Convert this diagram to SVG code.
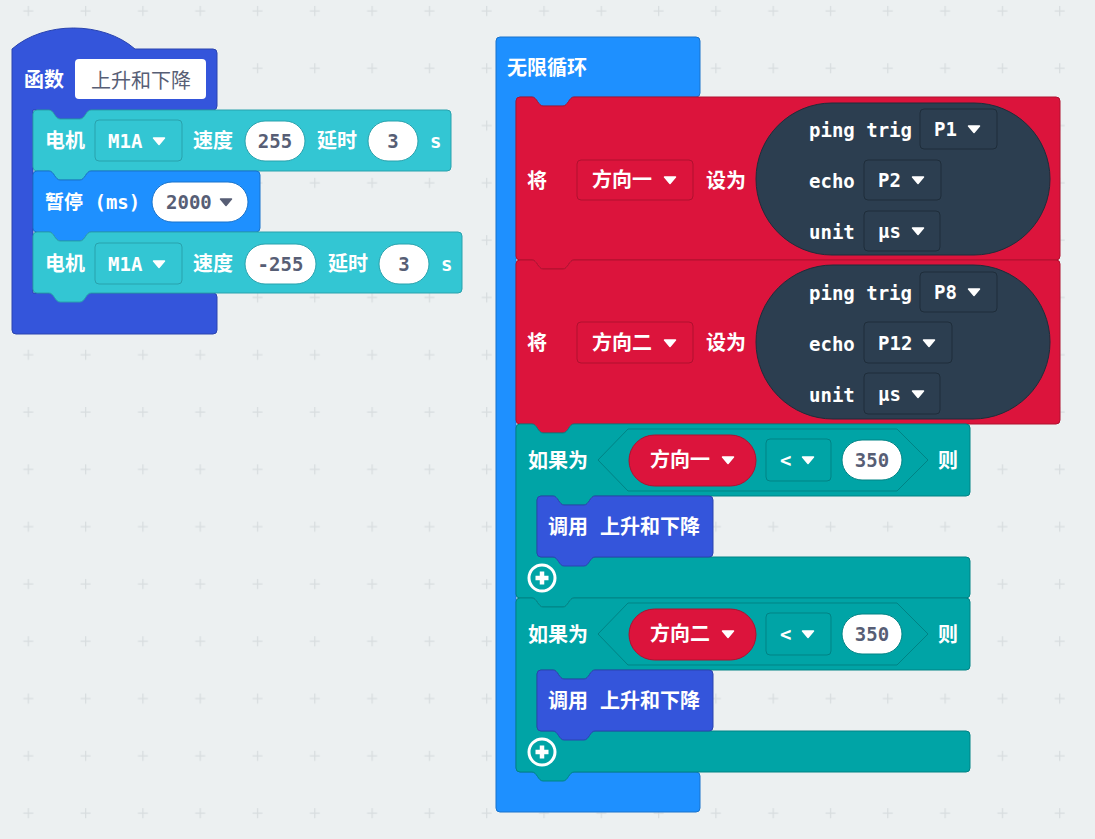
<svg xmlns="http://www.w3.org/2000/svg" xmlns:xlink="http://www.w3.org/1999/xlink" width="1095" height="839" viewBox="0 0 1095 839">
<style>
.t{font-family:'DejaVu Sans Mono','Noto Sans CJK SC',monospace;font-size:19px;font-weight:bold;fill:#fff;dominant-baseline:central}
.c{font-size:20px}
.g{fill:#575e75}
.m{text-anchor:middle}
.fld{font-family:'Noto Sans CJK SC',sans-serif;font-size:20px;fill:#575e75;dominant-baseline:central;text-anchor:middle}
.fn{fill:#3455db;stroke:#2a44af;stroke-width:1}
.mo{fill:#33c6d3;stroke:#29a2ad;stroke-width:1}
.lp{fill:#1e90ff;stroke:#1873cc;stroke-width:1}
.var{fill:#dc143c;stroke:#b0102f;stroke-width:1}
.son{fill:#2c3e50;stroke:#1f2d3a;stroke-width:1}
.lg{fill:#00a4a6;stroke:#008385;stroke-width:1}
.num{fill:#fff;stroke-width:1}
</style>
<defs>
<pattern id="grid" patternUnits="userSpaceOnUse" x="0" y="0" width="57.3" height="57.3">
<path d="M23.3,11H33.3M28.3,6V16" stroke="#d8dddf" stroke-width="1.3" fill="none"/>
</pattern>
<path id="tri" d="M-5.5,-3 L5.5,-3 L0,3.5 Z" stroke-linejoin="round" stroke-width="1.5"/>
<path id="stmt61" d="M0,4 Q0,0 4,0 H16 C21,0 22,9 27,9 H47 C52,9 53,0 58,0 H172 Q176,0 176,4 V57 Q176,61 172,61 H58 C53,61 52,70 47,70 H27 C22,70 21,61 16,61 H4 Q0,61 0,57 Z"/>
<path id="ifshape" d="M0,4 Q0,0 4,0 H16 C21,0 22,9 27,9 H47 C52,9 53,0 58,0 H450 Q454,0 454,4 V68 Q454,72 450,72 H79 C74,72 73,81 68,81 H48 C43,81 42,72 37,72 H25 Q21,72 21,76 V129 Q21,133 25,133 H450 Q454,133 454,137 V170 Q454,174 450,174 H58 C53,174 52,183 47,183 H27 C22,183 21,174 16,174 H4 Q0,174 0,170 Z"/>
</defs>
<rect width="1095" height="839" fill="#ecf0f1"/>
<rect width="1095" height="839" fill="url(#grid)"/>
<g id="connectors"></g>

<g id="function-block">
<path class="fn" d="M12,49 C44,21 103,21 135,49 H213 Q217,49 217,53 V106 Q217,110 213,110 H91 C86,110 85,119 80,119 H60 C55,119 54,110 49,110 H33 V293 H213 Q217,293 217,297 V330 Q217,334 213,334 H16 Q12,334 12,330 Z"/>
<text class="t c" x="24" y="80">函数</text>
<rect x="75" y="59" width="131" height="40" rx="4" fill="#fff"/>
<text class="fld" x="141" y="79">上升和下降</text>
</g>

<g id="motor1" transform="translate(33,110)">
<path class="mo" d="M0,4 Q0,0 4,0 H16 C21,0 22,9 27,9 H47 C52,9 53,0 58,0 H414 Q418,0 418,4 V57 Q418,61 414,61 H58 C53,61 52,70 47,70 H27 C22,70 21,61 16,61 H4 Q0,61 0,57 Z"/>
<text class="t c" x="12" y="31">电机</text>
<rect class="mo" x="62" y="10" width="87" height="41" rx="4"/>
<text class="t" x="75" y="31">M1A</text>
<use href="#tri" x="126" y="31" fill="#fff" stroke="#fff"/>
<text class="t c" x="160" y="31">速度</text>
<rect class="num" x="212" y="11" width="60" height="40" rx="20" stroke="#29a2ad"/>
<text class="t g m" x="242" y="31">255</text>
<text class="t c" x="284" y="31">延时</text>
<rect class="num" x="335" y="11" width="50" height="40" rx="20" stroke="#29a2ad"/>
<text class="t g m" x="360" y="31">3</text>
<text class="t" x="397" y="31">s</text>
</g>

<g id="pause" transform="translate(33,171)">
<path class="lp" d="M0,4 Q0,0 4,0 H16 C21,0 22,9 27,9 H47 C52,9 53,0 58,0 H223 Q227,0 227,4 V57 Q227,61 223,61 H58 C53,61 52,70 47,70 H27 C22,70 21,61 16,61 H4 Q0,61 0,57 Z"/>
<text class="t" x="12" y="31">暂停 (ms)</text>
<rect class="num" x="119" y="11" width="96" height="40" rx="20" stroke="#1873cc"/>
<text class="t g" x="133" y="31">2000</text>
<use href="#tri" x="193" y="31" fill="#575e75" stroke="#575e75"/>
</g>

<g id="motor2" transform="translate(33,232)">
<path class="mo" d="M0,4 Q0,0 4,0 H16 C21,0 22,9 27,9 H47 C52,9 53,0 58,0 H425 Q429,0 429,4 V57 Q429,61 425,61 H58 C53,61 52,70 47,70 H27 C22,70 21,61 16,61 H4 Q0,61 0,57 Z"/>
<text class="t c" x="12" y="32">电机</text>
<rect class="mo" x="62" y="11" width="87" height="41" rx="4"/>
<text class="t" x="75" y="32">M1A</text>
<use href="#tri" x="126" y="32" fill="#fff" stroke="#fff"/>
<text class="t c" x="160" y="32">速度</text>
<rect class="num" x="212" y="12" width="71" height="40" rx="20" stroke="#29a2ad"/>
<text class="t g m" x="247.5" y="32">-255</text>
<text class="t c" x="295" y="32">延时</text>
<rect class="num" x="346" y="12" width="50" height="40" rx="20" stroke="#29a2ad"/>
<text class="t g m" x="371" y="32">3</text>
<text class="t" x="408" y="32">s</text>
</g>

<g id="forever">
<path class="lp" d="M500,37 H696 Q700,37 700,41 V93 Q700,97 696,97 H574 C569,97 568,106 563,106 H543 C538,106 537,97 532,97 H520 Q516,97 516,101 V768 Q516,772 520,772 H696 Q700,772 700,776 V808 Q700,812 696,812 H500 Q496,812 496,808 V41 Q496,37 500,37 Z"/>
<text class="t c" x="507" y="68">无限循环</text>
</g>

<g id="set1" transform="translate(516,97)">
<path class="var" d="M0,4 Q0,0 4,0 H16 C21,0 22,9 27,9 H47 C52,9 53,0 58,0 H540 Q544,0 544,4 V159 Q544,163 540,163 H58 C53,163 52,172 47,172 H27 C22,172 21,163 16,163 H4 Q0,163 0,159 Z"/>
<text class="t c" x="11" y="84">将</text>
<rect class="var" x="61" y="63" width="116" height="40" rx="4"/>
<text class="t c" x="76" y="83">方向一</text>
<use href="#tri" x="154" y="83" fill="#fff" stroke="#fff"/>
<text class="t c" x="190" y="84">设为</text>
<rect class="son" x="240" y="6" width="294" height="152" rx="76"/>
<text class="t" x="293" y="33">ping trig</text>
<rect class="son" x="404" y="12" width="77" height="40" rx="4"/>
<text class="t" x="418" y="32">P1</text>
<use href="#tri" x="458" y="32" fill="#fff" stroke="#fff"/>
<text class="t" x="293" y="84">echo</text>
<rect class="son" x="348" y="63" width="77" height="40" rx="4"/>
<text class="t" x="362" y="83">P2</text>
<use href="#tri" x="402" y="83" fill="#fff" stroke="#fff"/>
<text class="t" x="293" y="135">unit</text>
<rect class="son" x="348" y="114" width="76" height="40" rx="4"/>
<text class="t" x="362" y="134">μs</text>
<use href="#tri" x="402" y="134" fill="#fff" stroke="#fff"/>
</g>

<g id="set2" transform="translate(516,260)">
<path class="var" d="M0,4 Q0,0 4,0 H16 C21,0 22,9 27,9 H47 C52,9 53,0 58,0 H540 Q544,0 544,4 V160 Q544,164 540,164 H58 C53,164 52,173 47,173 H27 C22,173 21,164 16,164 H4 Q0,164 0,160 Z"/>
<text class="t c" x="11" y="83">将</text>
<rect class="var" x="61" y="62" width="116" height="41" rx="4"/>
<text class="t c" x="76" y="83">方向二</text>
<use href="#tri" x="154" y="83" fill="#fff" stroke="#fff"/>
<text class="t c" x="190" y="83">设为</text>
<rect class="son" x="240" y="5" width="294" height="154" rx="77"/>
<text class="t" x="293" y="33">ping trig</text>
<rect class="son" x="404" y="12" width="77" height="40" rx="4"/>
<text class="t" x="418" y="32">P8</text>
<use href="#tri" x="458" y="32" fill="#fff" stroke="#fff"/>
<text class="t" x="293" y="84">echo</text>
<rect class="son" x="348" y="62" width="88" height="41" rx="4"/>
<text class="t" x="362" y="83">P12</text>
<use href="#tri" x="413" y="83" fill="#fff" stroke="#fff"/>
<text class="t" x="293" y="135">unit</text>
<rect class="son" x="348" y="113" width="76" height="41" rx="4"/>
<text class="t" x="362" y="134">μs</text>
<use href="#tri" x="402" y="134" fill="#fff" stroke="#fff"/>
</g>

<g id="if1" transform="translate(516,424)">
<use href="#ifshape" class="lg"/>
<text class="t c" x="12" y="37">如果为</text>
<path class="lg" d="M82,36 L112,5 H381 L412,36 L381,67 H112 Z"/>
<rect class="var" x="113" y="11" width="127" height="51" rx="25.5"/>
<text class="t c" x="134" y="36">方向一</text>
<use href="#tri" x="212" y="36" fill="#fff" stroke="#fff"/>
<rect class="lg" x="250" y="15" width="65" height="42" rx="4"/>
<text class="t" x="264" y="36">&lt;</text>
<use href="#tri" x="292" y="36" fill="#fff" stroke="#fff"/>
<rect class="num" x="326" y="16" width="60" height="40" rx="20" stroke="#008385"/>
<text class="t g m" x="356" y="36">350</text>
<text class="t c" x="422" y="37">则</text>
<circle cx="26" cy="154" r="13" fill="none" stroke="#fff" stroke-width="3"/>
<path d="M26,147.5 V160.5 M19.5,154 H32.5" stroke="#fff" stroke-width="4.5"/>
</g>

<g id="call1" transform="translate(537,496)">
<use href="#stmt61" class="fn"/>
<text class="t c" x="11" y="31">调用</text>
<text class="t c" x="63" y="31">上升和下降</text>
</g>

<g id="if2" transform="translate(516,598)">
<use href="#ifshape" class="lg"/>
<text class="t c" x="12" y="37">如果为</text>
<path class="lg" d="M82,36 L112,5 H381 L412,36 L381,67 H112 Z"/>
<rect class="var" x="113" y="11" width="127" height="51" rx="25.5"/>
<text class="t c" x="134" y="36">方向二</text>
<use href="#tri" x="212" y="36" fill="#fff" stroke="#fff"/>
<rect class="lg" x="250" y="15" width="65" height="42" rx="4"/>
<text class="t" x="264" y="36">&lt;</text>
<use href="#tri" x="292" y="36" fill="#fff" stroke="#fff"/>
<rect class="num" x="326" y="16" width="60" height="40" rx="20" stroke="#008385"/>
<text class="t g m" x="356" y="36">350</text>
<text class="t c" x="422" y="37">则</text>
<circle cx="26" cy="154" r="13" fill="none" stroke="#fff" stroke-width="3"/>
<path d="M26,147.5 V160.5 M19.5,154 H32.5" stroke="#fff" stroke-width="4.5"/>
</g>

<g id="call2" transform="translate(537,670)">
<use href="#stmt61" class="fn"/>
<text class="t c" x="11" y="31">调用</text>
<text class="t c" x="63" y="31">上升和下降</text>
</g>
</svg>
